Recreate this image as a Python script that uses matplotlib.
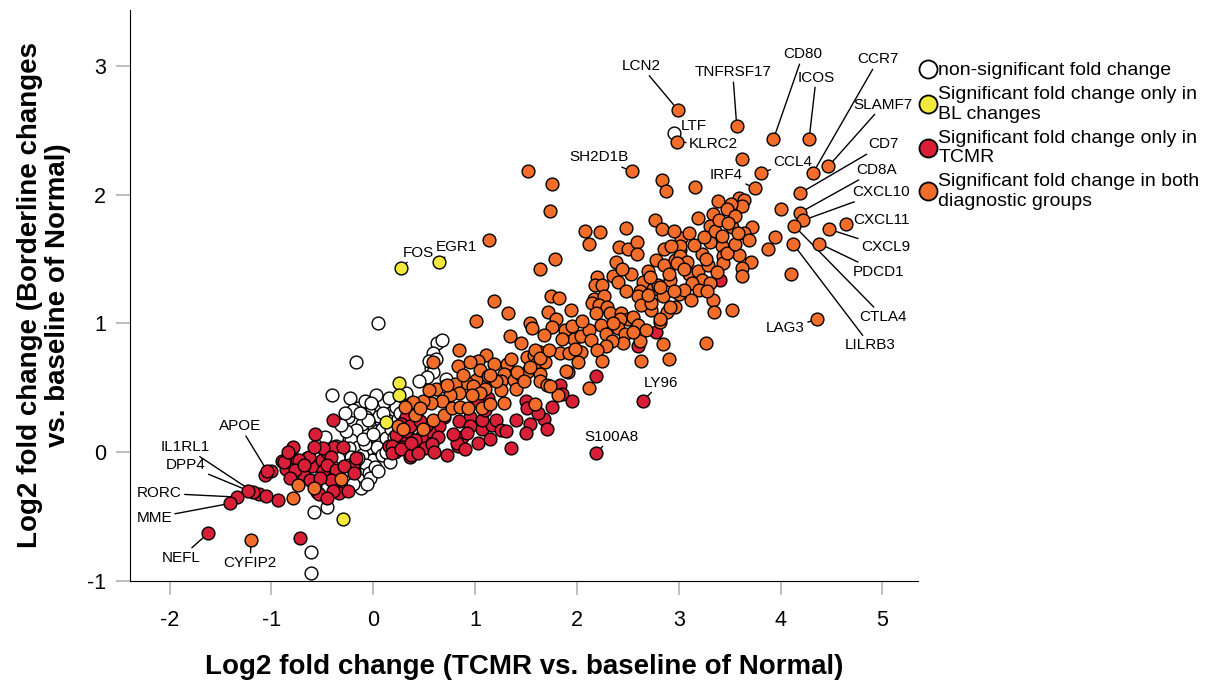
import matplotlib.pyplot as plt
from matplotlib.lines import Line2D

plt.rcParams['font.family'] = ['Liberation Sans', 'DejaVu Sans']
plt.rcParams['axes.unicode_minus'] = False

# Log2 fold change: (TCMR vs Normal, Borderline vs Normal)
white_pts = [
    (0.05, 1.00), (-0.17, 0.70), (-0.41, 0.44), (-0.23, 0.42), (-0.15, 0.34), (-0.25, 0.27),
    (-0.01, 0.34), (0.08, 0.33), (0.18, 0.31), (-0.07, 0.27), (-0.04, 0.21), (-0.11, 0.16),
    (-0.17, 0.12), (0.04, 0.16), (0.01, 0.09), (-0.02, 0.03), (0.09, 0.09), (0.06, -0.01),
    (-0.01, -0.06), (-0.09, -0.10), (-0.12, -0.22), (-0.24, 0.09), (-0.25, -0.05), (-0.34, -0.31),
    (0.63, 0.85), (0.67, 0.87), (0.59, 0.77), (0.57, 0.65), (0.59, 0.62), (0.71, 0.57),
    (0.70, 0.51), (0.32, 0.46), (-0.61, -0.78), (-0.61, -0.94), (-0.45, -0.43), (-0.58, -0.47),
    (-0.11, 0.22), (-0.17, 0.17), (0.09, 0.18), (-0.22, 0.09), (-0.15, 0.04), (-0.05, 0.03),
    (0.04, 0.04), (-0.24, 0.03), (-0.37, 0.05), (-0.47, 0.12), (-0.22, -0.04), (-0.11, -0.02),
    (0.09, -0.02), (-0.07, -0.10), (-0.14, -0.17), (-0.24, -0.10), (-0.14, -0.22), (-0.29, -0.22),
    (0.06, 0.28), (0.13, 0.25), (-0.05, 0.25), (0.12, 0.11), (0.17, 0.18), (-0.08, 0.06),
    (0.14, 0.02), (0.20, 0.12), (-0.19, -0.15), (-0.30, -0.15), (-0.04, -0.16), (0.02, -0.12),
    (-0.20, 0.33), (0.55, 0.71), (0.53, 0.58), (-0.35, -0.05), (-0.40, -0.12), (0.24, 0.26),
    (0.28, 0.21), (0.11, 0.39), (0.03, 0.44), (-0.08, 0.40), (-0.12, -0.28), (-0.18, -0.08),
    (-0.27, 0.16), (-0.32, 0.21), (0.16, -0.08), (-0.10, 0.10), (0.00, 0.14), (-0.13, 0.30),
    (0.12, 0.00), (-0.03, -0.20), (-0.20, -0.25), (0.22, 0.35), (0.26, 0.30), (0.30, 0.24),
    (0.33, 0.15), (-0.02, 0.38), (0.10, 0.30), (-0.15, -0.05), (0.05, -0.15), (-0.06, -0.25),
    (0.20, 0.05), (-0.28, 0.30), (0.15, 0.42), (0.45, 0.55), (0.62, 0.72),
]

red_pts = [
    (-0.72, -0.67), (-0.94, -0.37), (-0.57, 0.14), (-0.40, 0.25), (-0.79, 0.04), (-0.90, -0.07),
    (-0.86, -0.13), (-0.75, -0.06), (-0.75, -0.13), (-0.65, -0.05), (-0.60, -0.11), (-0.68, -0.19),
    (-0.57, -0.26), (-0.55, -0.31), (-0.47, -0.13), (-0.50, -0.06), (-0.45, 0.00), (-0.39, 0.04),
    (-0.30, 0.04), (-0.37, -0.23), (-0.34, -0.28), (-0.34, -0.32), (-0.20, -0.11), (-0.17, -0.05),
    (0.15, 0.05), (0.21, 0.00), (-0.49, 0.03), (-0.42, -0.04), (-0.63, -0.04), (-0.73, -0.06),
    (-0.88, -0.08), (-0.77, -0.14), (-0.68, -0.10), (-0.49, -0.15), (-0.45, -0.10), (-0.37, -0.14),
    (-0.42, -0.22), (-0.29, -0.11), (-0.19, -0.16), (-0.53, -0.33), (-1.00, -0.15), (-1.06, -0.18),
    (-1.12, -0.33), (-1.05, -0.34), (0.27, 0.09), (0.22, 0.13), (0.29, 0.04), (0.18, 0.05),
    (0.18, -0.01), (0.27, 0.02), (0.36, -0.04), (0.32, 0.34), (0.32, 0.27), (1.07, 0.61),
    (1.13, 0.42), (1.02, 0.40), (0.95, 0.27), (0.84, 0.24), (0.69, 0.27), (0.65, 0.20),
    (0.55, 0.16), (0.47, 0.12), (0.41, 0.09), (0.32, 0.16), (0.37, -0.02), (0.51, 0.03),
    (0.64, 0.12), (0.72, -0.02), (0.83, 0.05), (0.87, 0.12), (0.95, 0.20), (1.07, 0.18),
    (1.03, 0.07), (1.17, 0.21), (1.21, 0.25), (1.25, 0.17), (1.30, 0.16), (1.35, 0.03),
    (1.50, 0.40), (1.51, 0.34), (1.68, 0.26), (1.54, 0.22), (1.50, 0.15), (1.71, 0.18),
    (1.83, 0.52), (2.19, 0.59), (2.78, 0.93), (2.60, 0.82), (3.41, 1.34), (0.27, 0.22),
    (0.36, 0.20), (0.52, 0.20), (0.37, 0.07), (0.44, -0.01), (0.82, 0.07), (0.92, 0.15),
    (1.07, 0.25), (1.10, 0.33), (1.85, 0.45), (1.76, 0.35), (1.62, 0.30), (0.58, 0.06),
    (-0.82, -0.20), (-0.62, -0.22), (-0.52, -0.20), (-0.40, -0.30), (-0.58, 0.04), (-0.84, 0.00),
    (0.46, 0.24), (0.60, 0.00), (0.78, 0.14), (0.90, 0.02), (1.15, 0.10), (1.40, 0.25),
    (1.95, 0.40), (-0.25, -0.30), (-0.45, -0.36),
]

orange_pts = [
    (-0.79, -0.36), (-0.74, -0.26), (-0.58, -0.28), (-0.32, -0.21), (0.24, 0.20), (0.37, 0.38),
    (0.41, 0.29), (0.84, 0.79), (1.11, 0.75), (1.03, 0.71), (0.83, 0.67), (0.59, 0.70),
    (1.19, 0.68), (1.31, 0.68), (1.28, 0.61), (1.01, 0.56), (0.92, 0.54), (0.80, 0.53),
    (0.98, 0.51), (1.10, 0.49), (1.25, 0.55), (1.38, 0.56), (1.45, 0.60), (1.51, 0.62),
    (1.51, 0.74), (1.58, 0.75), (1.64, 0.78), (1.61, 0.69), (1.69, 0.70), (1.83, 0.77),
    (1.91, 0.62), (1.64, 0.61), (1.64, 0.55), (1.71, 0.52), (1.81, 0.44), (1.59, 0.37),
    (1.25, 0.48), (1.28, 0.38), (1.05, 0.46), (0.97, 0.44), (0.84, 0.46), (0.75, 0.44),
    (0.67, 0.40), (0.57, 0.38), (0.49, 0.40), (0.39, 0.39), (0.31, 0.35), (0.46, 0.34),
    (0.59, 0.25), (0.69, 0.29), (0.77, 0.34), (0.85, 0.35), (0.93, 0.34), (1.07, 0.34),
    (1.15, 0.37), (0.49, 0.18), (0.29, 0.18), (1.40, 0.49),
    (1.52, 2.18), (1.76, 2.08), (1.74, 1.87), (2.84, 2.11), (2.87, 2.03), (2.77, 1.80),
    (2.84, 1.73), (2.48, 1.74), (2.08, 1.72), (2.23, 1.71), (2.12, 1.62), (1.14, 1.65),
    (2.41, 1.59), (2.50, 1.58), (2.59, 1.63), (2.59, 1.54), (2.86, 1.58), (1.78, 1.50),
    (1.64, 1.42), (2.38, 1.48), (2.20, 1.36), (2.18, 1.30), (2.25, 1.30), (2.35, 1.37),
    (2.40, 1.32), (2.53, 1.38), (2.70, 1.41), (2.78, 1.49), (2.86, 1.45), (2.96, 1.49),
    (3.01, 1.57), (2.65, 1.32), (2.62, 1.25), (2.60, 1.21), (2.75, 1.27), (2.80, 1.30),
    (2.91, 1.34), (3.00, 1.23), (2.85, 1.21), (2.73, 1.10), (2.88, 1.09), (2.96, 1.13),
    (2.63, 1.14), (1.75, 1.21), (1.82, 1.20), (2.17, 1.19), (2.27, 1.21), (2.15, 1.16),
    (2.22, 1.14), (2.30, 1.13), (2.19, 1.08), (2.32, 1.08), (2.43, 1.08), (2.50, 1.03),
    (2.42, 1.03), (2.55, 1.05), (2.60, 0.99), (2.82, 1.01), (1.19, 1.17), (1.32, 1.08),
    (1.72, 1.09), (1.94, 1.10), (1.01, 1.02), (1.54, 1.00), (1.56, 0.96), (1.79, 1.03),
    (1.76, 0.97), (1.88, 0.95), (1.68, 0.91), (1.34, 0.90), (1.97, 0.88), (2.04, 0.90),
    (2.12, 0.95), (2.14, 0.87), (2.24, 0.99), (2.29, 0.92), (2.40, 0.96), (2.47, 0.92),
    (2.45, 0.85), (2.34, 0.86), (2.29, 0.82), (2.62, 0.86), (2.85, 0.84), (2.90, 0.72),
    (2.63, 0.71), (1.59, 0.79), (1.64, 0.73), (1.73, 0.79), (1.92, 0.77), (2.04, 0.78),
    (2.20, 0.79), (2.25, 0.71), (2.01, 0.70), (1.89, 0.63), (1.54, 0.66), (1.41, 0.62),
    (1.05, 0.64), (1.13, 0.59), (1.21, 0.55), (1.48, 0.55), (1.74, 0.51), (2.12, 0.50),
    (3.62, 2.28), (3.16, 2.06), (4.00, 1.89), (3.95, 1.67), (3.88, 1.58), (4.10, 1.38),
    (3.39, 1.95), (3.59, 1.97), (3.64, 1.96), (3.62, 1.91), (3.51, 1.93), (3.47, 1.89),
    (3.34, 1.85), (3.19, 1.82), (3.52, 1.75), (3.31, 1.76), (3.72, 1.75), (3.64, 1.70),
    (3.69, 1.65), (3.59, 1.53), (3.71, 1.48), (3.62, 1.43), (3.62, 1.37), (3.42, 1.60),
    (3.43, 1.52), (3.43, 1.47), (3.31, 1.63), (3.23, 1.54), (3.15, 1.61), (3.02, 1.66),
    (3.01, 1.60), (3.10, 1.70), (3.01, 1.52), (3.08, 1.48), (2.98, 1.47), (2.90, 1.38),
    (3.10, 1.38), (3.19, 1.41), (3.29, 1.45), (3.23, 1.34), (3.31, 1.31), (3.13, 1.31),
    (3.05, 1.26), (2.82, 1.28), (2.72, 1.36), (2.73, 1.16), (2.91, 1.13), (2.82, 1.03),
    (3.34, 1.18), (3.35, 1.09), (3.52, 1.10), (3.27, 0.85), (3.36, 1.72), (3.25, 1.67),
    (3.38, 1.40), (3.47, 1.55), (3.55, 1.62), (3.05, 1.42), (2.95, 1.25), (3.20, 1.26),
    (3.27, 1.50), (3.40, 1.80), (3.55, 1.83),
    (0.62, 0.49), (0.72, 0.52), (0.88, 0.60), (0.95, 0.70), (1.15, 0.60), (1.35, 0.72),
    (1.45, 0.85), (1.85, 0.88), (1.95, 0.98), (2.05, 1.02), (2.35, 1.00), (2.55, 0.93),
    (2.68, 0.95), (2.70, 1.22), (2.92, 1.60), (2.95, 1.72), (3.12, 1.18), (3.42, 1.68),
    (3.48, 1.78), (3.28, 1.25), (3.58, 1.70), (2.44, 1.42), (2.48, 1.25), (1.98, 0.80),
    (0.55, 0.48),
]

yellow_pts = [(0.25, 0.54), (0.25, 0.44), (0.12, 0.23), (-0.30, -0.52)]

# labelled genes: name, x, y, group
gene_names = ['LCN2', 'LTF', 'KLRC2', 'TNFRSF17', 'CD80', 'ICOS', 'CCR7', 'SLAMF7', 'CD7',
              'CD8A', 'CXCL10', 'CXCL11', 'CXCL9', 'PDCD1', 'CTLA4', 'LILRB3', 'LAG3',
              'SH2D1B', 'IRF4', 'CCL4', 'EGR1', 'FOS', 'LY96', 'S100A8', 'APOE', 'IL1RL1',
              'DPP4', 'RORC', 'MME', 'NEFL', 'CYFIP2']
gene_x = [2.99, 2.95, 2.98, 3.57, 3.93, 4.28, 4.32, 4.47, 4.19,
          4.19, 4.22, 4.64, 4.48, 4.38, 4.13, 4.12, 4.36,
          2.54, 3.75, 3.81, 0.65, 0.27, 2.65, 2.19, -1.04, -1.18,
          -1.23, -1.34, -1.41, -1.62, -1.20]
gene_y = [2.66, 2.48, 2.41, 2.53, 2.43, 2.43, 2.17, 2.22, 2.01,
          1.86, 1.80, 1.77, 1.73, 1.62, 1.76, 1.62, 1.03,
          2.18, 2.05, 2.17, 1.48, 1.43, 0.40, -0.01, -0.15, -0.31,
          -0.30, -0.35, -0.40, -0.63, -0.68]
gene_group = ['both', 'ns', 'both', 'both', 'both', 'both', 'both', 'both', 'both',
              'both', 'both', 'both', 'both', 'both', 'both', 'both', 'both',
              'both', 'both', 'both', 'bl', 'bl', 'tcmr', 'tcmr', 'tcmr', 'tcmr',
              'tcmr', 'tcmr', 'tcmr', 'tcmr', 'both']

# where each gene label sits
label_pos = {
    'LCN2': (2.63, 3.00), 'LTF': (3.15, 2.53), 'KLRC2': (3.34, 2.39), 'TNFRSF17': (3.53, 2.95),
    'CD80': (4.22, 3.09), 'ICOS': (4.35, 2.91), 'CCR7': (4.96, 3.05), 'SLAMF7': (5.01, 2.70),
    'CD7': (5.01, 2.39), 'CD8A': (4.94, 2.19), 'CXCL10': (4.99, 2.02), 'CXCL11': (4.99, 1.80),
    'CXCL9': (5.03, 1.59), 'PDCD1': (4.96, 1.40), 'CTLA4': (5.01, 1.05), 'LILRB3': (4.88, 0.83),
    'LAG3': (4.05, 0.96), 'SH2D1B': (2.22, 2.29), 'IRF4': (3.47, 2.15), 'CCL4': (4.12, 2.25),
    'EGR1': (0.82, 1.59), 'FOS': (0.44, 1.55), 'LY96': (2.83, 0.54), 'S100A8': (2.34, 0.12),
    'APOE': (-1.31, 0.20), 'IL1RL1': (-1.85, 0.04), 'DPP4': (-1.84, -0.10), 'RORC': (-2.10, -0.32),
    'MME': (-2.15, -0.51), 'NEFL': (-1.89, -0.82), 'CYFIP2': (-1.21, -0.86),
}

colors = {'ns': '#ffffff', 'bl': '#f2e93c', 'tcmr': '#d91f38', 'both': '#f26d29'}
legend_labels = ['non-significant fold change',
                 'Significant fold change only in\nBL changes',
                 'Significant fold change only in\nTCMR',
                 'Significant fold change in both\ndiagnostic groups']

groups = {
    'ns': list(white_pts), 'tcmr': list(red_pts), 'both': list(orange_pts), 'bl': list(yellow_pts),
}
for gx, gy, g in zip(gene_x, gene_y, gene_group):
    groups[g].append((gx, gy))

fig = plt.figure(figsize=(12.18, 6.86), dpi=100)
ax = fig.add_axes([0.1067, 0.1535, 0.647, 0.832])

for g in ['ns', 'tcmr', 'both', 'bl']:
    xs = [p[0] for p in groups[g]]
    ys = [p[1] for p in groups[g]]
    ax.scatter(xs, ys, s=85, c=colors[g], edgecolors='black', linewidths=1.0, zorder=3)

for name, gx, gy in zip(gene_names, gene_x, gene_y):
    tx, ty = label_pos[name]
    ax.annotate(name, xy=(gx, gy), xytext=(tx, ty), ha='center', va='center', fontsize=11,
                arrowprops=dict(arrowstyle='-', color='black', lw=1.0, shrinkA=0, shrinkB=4.5),
                zorder=2)

ax.set_xlim(-2.39, 5.35)
ax.set_ylim(-1.0, 3.435)
ax.set_xticks([-2, -1, 0, 1, 2, 3, 4, 5])
ax.set_yticks([-1, 0, 1, 2, 3])
ax.spines['top'].set_visible(False)
ax.spines['right'].set_visible(False)
ax.tick_params(direction='out', length=10, width=1.2, color='#b3b3b3', labelsize=15.5)
ax.tick_params(axis='x', pad=11)
ax.tick_params(axis='y', pad=7)

ax.set_xlabel('Log2 fold change (TCMR vs. baseline of Normal)', fontsize=20,
              fontweight='bold', labelpad=17)
ax.set_ylabel('Log2 fold change (Borderline changes\nvs. baseline of Normal)', fontsize=20,
              fontweight='bold', labelpad=12, linespacing=1.1)

handles = [Line2D([], [], marker='o', ls='none', markersize=13, markerfacecolor=colors[g],
                  markeredgecolor='black', markeredgewidth=1.3)
           for g in ['ns', 'bl', 'tcmr', 'both']]
fig.legend(handles, legend_labels, loc='upper left', bbox_to_anchor=(0.756, 0.91),
           frameon=False, fontsize=14, handlelength=0.7, handletextpad=0.2,
           labelspacing=0.35, borderpad=0, borderaxespad=0)

fig.savefig('out.png', dpi=100)
